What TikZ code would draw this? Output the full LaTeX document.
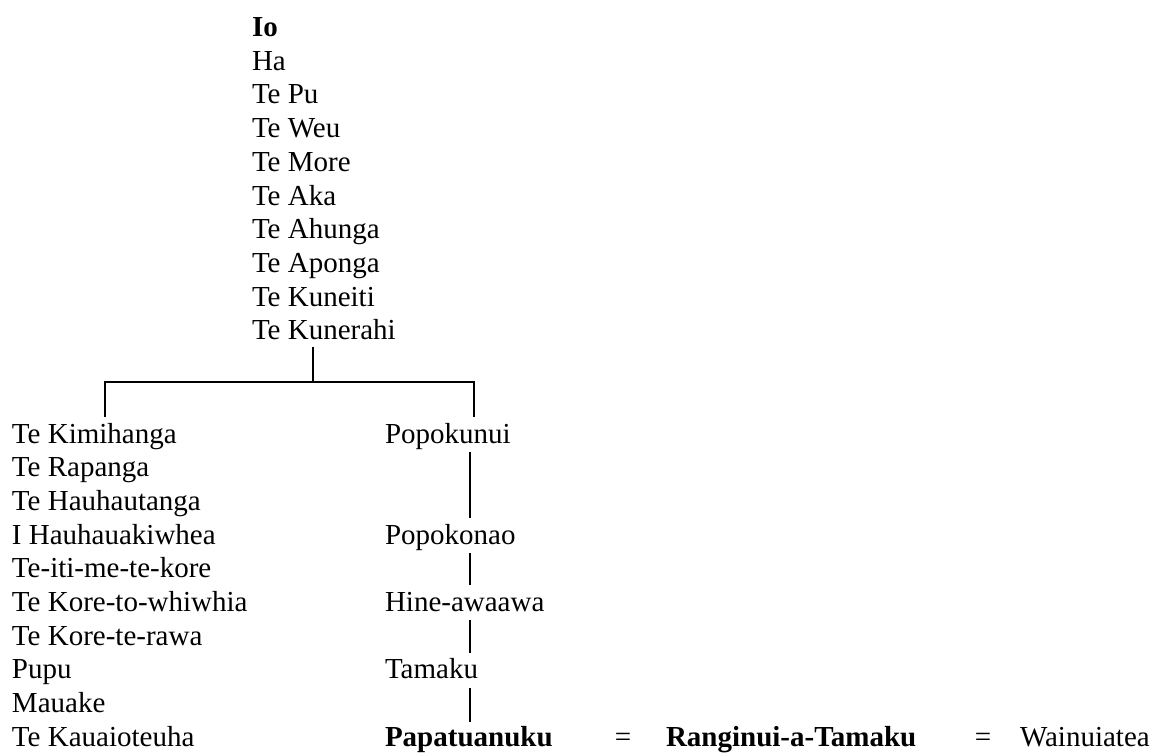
\documentclass[tikz,border=0pt]{standalone}
\usepackage{fontspec}
\setmainfont{Liberation Serif}
\begin{document}
\begin{tikzpicture}[x=1pt,y=-1pt,
  gname/.style={anchor=base west,inner sep=0pt,outer sep=0pt,font=\fontsize{29}{34}\selectfont},
  bname/.style={gname,font=\fontsize{29}{34}\selectfont\bfseries},
  eqsign/.style={anchor=base,inner sep=0pt,font=\fontsize{29}{34}\selectfont},
  bracket/.style={line width=1.6pt},
  link/.style={line width=1.4pt}]
\useasboundingbox (0,0) rectangle (1155,754);
\def\ls{33.7}
% descent line from Io
\node[bname] (io)   at (252,36.5) {Io};
\node[gname] (ha)   at (252,36.5+1*\ls) {Ha};
\node[gname] (pu)   at (252,36.5+2*\ls) {Te Pu};
\node[gname] (weu)  at (252,36.5+3*\ls) {Te Weu};
\node[gname] (more) at (252,36.5+4*\ls) {Te More};
\node[gname] (aka)  at (252,36.5+5*\ls) {Te Aka};
\node[gname] (ahu)  at (252,36.5+6*\ls) {Te Ahunga};
\node[gname] (apo)  at (252,36.5+7*\ls) {Te Aponga};
\node[gname] (kit)  at (252,36.5+8*\ls) {Te Kuneiti};
\node[gname] (kra)  at (252,36.5+9*\ls) {Te Kunerahi};
% left branch
\node[gname] (l0) at (12,443+0*\ls) {Te Kimihanga};
\node[gname] (l1) at (12,443+1*\ls) {Te Rapanga};
\node[gname] (l2) at (12,443+2*\ls) {Te Hauhautanga};
\node[gname] (l3) at (12,443+3*\ls) {I Hauhauakiwhea};
\node[gname] (l4) at (12,443+4*\ls) {Te-iti-me-te-kore};
\node[gname] (l5) at (12,443+5*\ls) {Te Kore-to-whiwhia};
\node[gname] (l6) at (12,443+6*\ls) {Te Kore-te-rawa};
\node[gname] (l7) at (12,443+7*\ls) {Pupu};
\node[gname] (l8) at (12,443+8*\ls) {Mauake};
\node[gname] (l9) at (12,443+9*\ls) {Te Kauaioteuha};
% right branch
\node[gname] (pkn) at (385,443+0*\ls) {Popokunui};
\node[gname] (pko) at (385,443+3*\ls) {Popokonao};
\node[gname] (hin) at (385,443+5*\ls) {Hine-awaawa};
\node[gname] (tam) at (385,443+7*\ls) {Tamaku};
\node[bname] (pap) at (385,443+9*\ls) {Papatuanuku};
\node[eqsign] (eq1) at (623,443+9*\ls) {=};
\node[bname] (ran) at (666,443+9*\ls) {Ranginui-a-Tamaku};
\node[eqsign] (eq2) at (983,443+9*\ls) {=};
\node[gname] (wai) at (1020,443+9*\ls) {Wainuiatea};
% bracket joining the two branches
\coordinate (jtop) at (313,347);
\coordinate (join) at (313,382);
\coordinate (lb) at (105,382);
\coordinate (rb) at (474,382);
\coordinate (ld) at (105,417);
\coordinate (rd) at (474,417);
\draw[bracket] (jtop) -- (join);
\draw[bracket] (ld) -- (lb) -- (rb) -- (rd);
% links down the right branch
\coordinate (s1) at (470,452); \coordinate (e1) at (470,518);
\coordinate (s2) at (470,553); \coordinate (e2) at (470,585);
\coordinate (s3) at (470,620); \coordinate (e3) at (470,653);
\coordinate (s4) at (470,688); \coordinate (e4) at (470,722);
\draw[link] (s1) -- (e1);
\draw[link] (s2) -- (e2);
\draw[link] (s3) -- (e3);
\draw[link] (s4) -- (e4);
\end{tikzpicture}
\end{document}
